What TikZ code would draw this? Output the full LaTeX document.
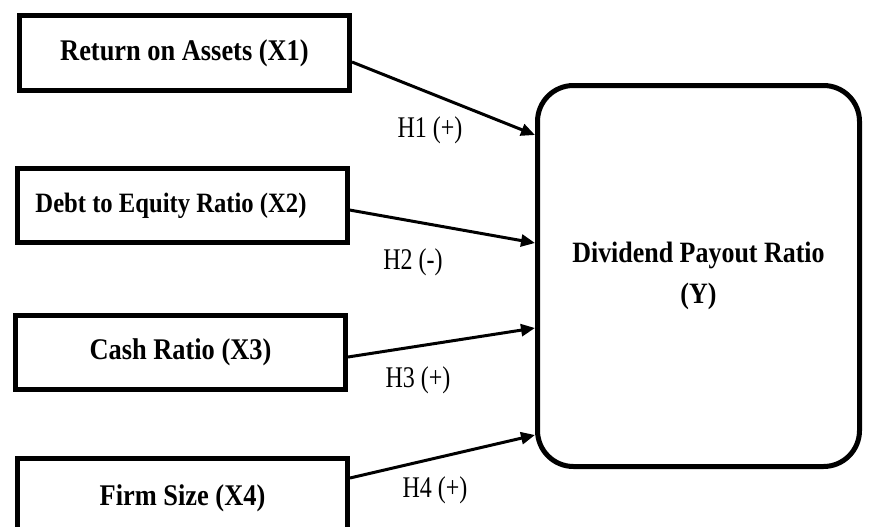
\documentclass[tikz,border=0pt]{standalone}
\usepackage{fontspec}
\setmainfont{Liberation Serif}[FakeStretch=0.88]
\newfontfamily\labelfont{Liberation Serif}[FakeStretch=0.8]
\usetikzlibrary{arrows.meta}
\begin{document}
\begin{tikzpicture}[x=1pt,y=-1pt,
  varbox/.style={draw=black, line width=5pt, rectangle, minimum width=330pt, minimum height=74pt, inner sep=0pt, font=\bfseries\fontsize{30}{34}\selectfont},
  depbox/.style={draw=black, line width=5pt, rounded corners=36pt, minimum width=322pt, minimum height=381pt, inner sep=0pt, align=center, font=\bfseries\fontsize{29.5}{41}\selectfont},
  hyplabel/.style={inner sep=0pt, font=\labelfont\fontsize{30}{32}\selectfont},
  link/.style={line width=3pt, -{Triangle[length=14pt,width=12pt]}}]
\useasboundingbox (0,0) rectangle (870,527);
\begin{scope}
\clip (0,0) rectangle (870,527);
\node[varbox] (b1) at (184.5,53) {Return on Assets (X1)};
\node[varbox, font=\bfseries\fontsize{28}{32}\selectfont] (b2) at (182,205.5) {\hspace*{-22pt}Debt to Equity Ratio (X2)};
\node[varbox] (b3) at (180.5,352.5) {Cash Ratio (X3)};
\node[varbox, minimum height=80pt] (b4) at (182.5,498) {\raisebox{4pt}{Firm Size (X4)}};
\node[depbox] (y) at (698.5,276) {Dividend Payout Ratio\\(Y)};
\draw[link] ([yshift=-9pt]b1.east) -- ([yshift=141pt]y.west);
\draw[link] ([yshift=-4.5pt]b2.east) -- ([yshift=33pt]y.west);
\draw[link] ([yshift=-4.5pt]b3.east) -- ([yshift=-52pt]y.west);
\draw[link] ([yshift=20pt]b4.east) -- ([yshift=-159pt]y.west);
\node[hyplabel] (h1) at (430,130) {H1 (+)};
\node[hyplabel] (h2) at (413,262) {H2 (-)};
\node[hyplabel] (h3) at (418,380) {H3 (+)};
\node[hyplabel] (h4) at (435,490) {H4 (+)};
\end{scope}
\end{tikzpicture}
\end{document}
